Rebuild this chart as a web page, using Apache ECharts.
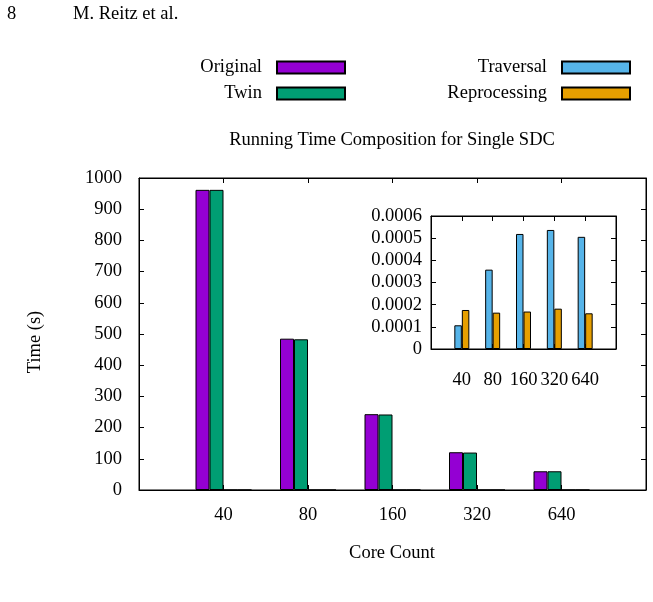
<!DOCTYPE html>
<html lang="en">
  <head>
    <meta charset="UTF-8" />
    <title>Running Time Composition for Single SDC</title>
    <script src="https://cdn.jsdelivr.net/npm/echarts@6/dist/echarts.min.js"></script>
    <style>
      html,
      body {
        margin: 0;
        padding: 0;
        background: #fff;
      }
      #chart {
        width: 653px;
        height: 602px;
      }
    </style>
  </head>
  <body>
    <div id="chart"></div>

    <script>
      // data
      var cores = ["40", "80", "160", "320", "640"];
      var original = [962, 485, 243, 121, 60];
      var twin = [962, 483, 242, 120, 60];
      var traversal = [0.000107, 0.000358, 0.000519, 0.000537, 0.000506];
      var reprocessing = [0.000176, 0.000164, 0.000169, 0.000182, 0.000161];

      var FONT = "'Liberation Serif', serif";
      var FS = 18.5;
      var colors = {
        Original: "#9400d3",
        Twin: "#009e73",
        Traversal: "#56b4e9",
        Reprocessing: "#e69f00",
      };

      var chart = echarts.init(document.getElementById("chart"));

      // bars sit on a value axis, one unit per core count
      function toPoints(values) {
        return values.map(function (v, i) {
          return [i, v];
        });
      }

      function coreLabel(v) {
        return v >= 0 && v < cores.length ? cores[v] : "";
      }

      var textStyle = { fontFamily: FONT, fontSize: FS, color: "#000" };
      var blackLine = { lineStyle: { color: "#000", width: 1 } };

      function xAxisFor(gridIndex, pos, labels, margin) {
        return {
          type: "value",
          gridIndex: gridIndex,
          position: pos,
          min: -1,
          max: 5,
          interval: 1,
          splitLine: { show: false },
          axisLine: Object.assign({ show: true, onZero: false }, blackLine),
          axisTick: Object.assign({ show: true, inside: true, length: 5 }, blackLine),
          axisLabel: Object.assign(
            { show: labels, margin: margin, formatter: coreLabel },
            textStyle
          ),
        };
      }

      function yAxisFor(gridIndex, pos, max, interval, labels, margin, fmt) {
        return {
          type: "value",
          gridIndex: gridIndex,
          position: pos,
          min: 0,
          max: max,
          interval: interval,
          splitLine: { show: false },
          axisLine: Object.assign({ show: true, onZero: false }, blackLine),
          axisTick: Object.assign({ show: true, inside: true, length: 5 }, blackLine),
          axisLabel: Object.assign(
            { show: labels, margin: margin, formatter: fmt },
            textStyle
          ),
        };
      }

      function barSeries(name, values, xi, yi, width) {
        return {
          type: "bar",
          name: name,
          xAxisIndex: xi,
          yAxisIndex: yi,
          data: toPoints(values),
          barWidth: width,
          barGap: "0%",
          itemStyle: { color: colors[name], borderColor: "#000", borderWidth: 1 },
          emphasis: { disabled: true },
          animation: false,
        };
      }

      function legendFor(name, right, top) {
        return {
          data: [name],
          right: right,
          top: top,
          padding: 0,
          align: "right",
          icon: "rect",
          itemWidth: 68,
          itemHeight: 12,
          selectedMode: false,
          textStyle: Object.assign({ padding: [0, 10, 0, 0] }, textStyle),
        };
      }

      var option = {
        animation: false,
        textStyle: { fontFamily: FONT },
        legend: [
          legendFor("Original", 307, 58),
          legendFor("Twin", 307, 84),
          legendFor("Traversal", 22, 58),
          legendFor("Reprocessing", 22, 84),
        ],
        grid: [
          {
            left: 139,
            top: 178,
            width: 507,
            height: 312,
            show: true,
            borderColor: "#000",
            borderWidth: 1,
          },
          {
            left: 431,
            top: 216,
            width: 185,
            height: 133,
            show: true,
            backgroundColor: "#fff",
            borderColor: "#000",
            borderWidth: 1,
          },
        ],
        xAxis: [
          xAxisFor(0, "bottom", true, 16),
          xAxisFor(0, "top", false, 8),
          xAxisFor(1, "bottom", true, 22),
          xAxisFor(1, "top", false, 8),
        ],
        yAxis: [
          yAxisFor(0, "left", 1000, 100, true, 17, function (v) {
            return String(v);
          }),
          yAxisFor(0, "right", 1000, 100, false, 8),
          yAxisFor(1, "left", 0.0006, 0.0001, true, 9, function (v) {
            return v === 0 ? "0" : v.toFixed(4);
          }),
          yAxisFor(1, "right", 0.0006, 0.0001, false, 8),
        ],
        series: [
          barSeries("Original", original, 0, 0, 14),
          barSeries("Twin", twin, 0, 0, 14),
          barSeries("Traversal", traversal, 0, 0, 14),
          barSeries("Reprocessing", reprocessing, 0, 0, 14),
          barSeries("Traversal", traversal, 2, 2, 7.5),
          barSeries("Reprocessing", reprocessing, 2, 2, 7.5),
        ],
        graphic: [
          {
            type: "text",
            x: 7,
            y: 14,
            style: { text: "8", fill: "#000", fontFamily: FONT, fontSize: FS, verticalAlign: "middle" },
          },
          {
            type: "text",
            x: 73,
            y: 14,
            style: { text: "M. Reitz et al.", fill: "#000", fontFamily: FONT, fontSize: FS, verticalAlign: "middle" },
          },
          {
            type: "text",
            x: 392,
            y: 140,
            style: {
              text: "Running Time Composition for Single SDC",
              fill: "#000",
              fontFamily: FONT,
              fontSize: FS,
              align: "center",
              verticalAlign: "middle",
            },
          },
          {
            type: "text",
            x: 35,
            y: 342,
            rotation: Math.PI / 2,
            style: {
              text: "Time (s)",
              fill: "#000",
              fontFamily: FONT,
              fontSize: FS,
              align: "center",
              verticalAlign: "middle",
            },
          },
          {
            type: "text",
            x: 392,
            y: 553,
            style: {
              text: "Core Count",
              fill: "#000",
              fontFamily: FONT,
              fontSize: FS,
              align: "center",
              verticalAlign: "middle",
            },
          },
        ],
      };

      chart.setOption(option);
    </script>
  </body>
</html>
